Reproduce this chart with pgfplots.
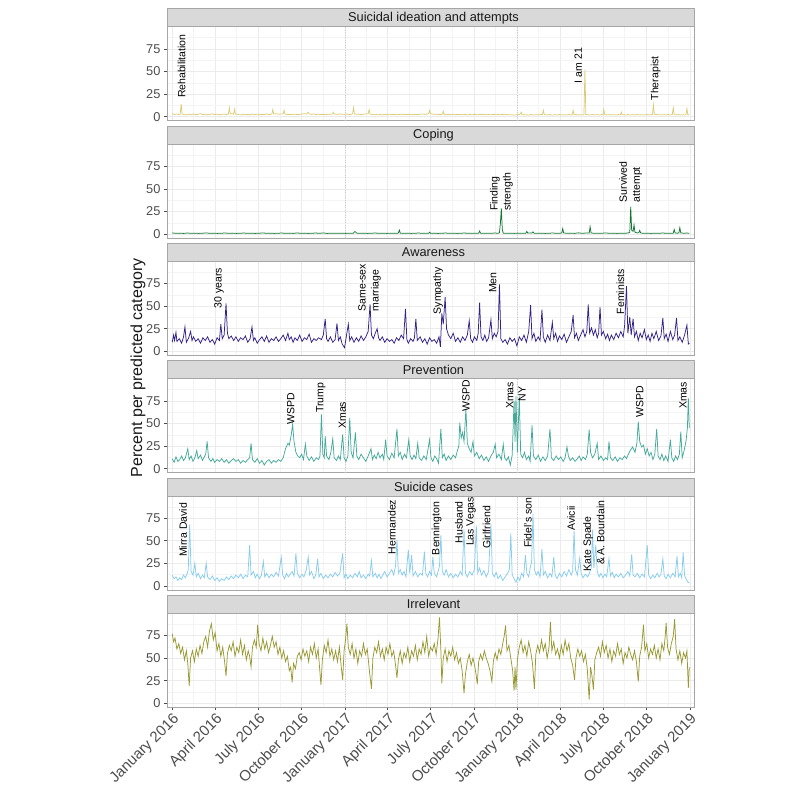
\documentclass[border=0pt]{standalone}
\usepackage{fontspec}
\setmainfont{Liberation Sans}
\usepackage{pgfplots}
\pgfplotsset{compat=1.18}

\definecolor{cSui}{HTML}{DDCC77}
\definecolor{cCop}{HTML}{117733}
\definecolor{cAwa}{HTML}{332288}
\definecolor{cPre}{HTML}{44AA99}
\definecolor{cCas}{HTML}{88CCEE}
\definecolor{cIrr}{HTML}{999933}
\definecolor{stripfill}{HTML}{D9D9D9}
\definecolor{frame}{HTML}{A6A6A6}
\definecolor{gmaj}{HTML}{EBEBEB}
\definecolor{gmin}{HTML}{F4F4F4}
\definecolor{ticktxt}{HTML}{4D4D4D}

% x is days since 1 January 2016
\pgfplotsset{
 panel/.style={
  width=527pt, height=94pt, scale only axis, anchor=south west,
  xmin=-11, xmax=1105, ymin=-4.5, ymax=99.5,
  xtick={0,91,182,274,366,456,547,639,731,821,912,1004,1096},
  minor xtick={45.5,136.5,228,320,411,501.5,593,685,776,866.5,958,1050},
  ytick={0,25,50,75}, minor ytick={12.5,37.5,62.5,87.5},
  xmajorgrids, ymajorgrids, xminorgrids, yminorgrids,
  major grid style={gmaj, line width=0.5pt},
  minor grid style={gmin, line width=0.4pt},
  axis line style={frame, line width=0.6pt},
  ytick pos=left, xtick pos=bottom, tick align=outside,
  major tick length=3pt, minor tick length=0pt,
  tick style={ticktxt, line width=0.5pt},
  yticklabel style={font=\fontsize{12.8}{14}\selectfont, text=ticktxt},
  /pgf/number format/assume math mode=true,
  xticklabels={}, xmajorticks=false,
  extra x ticks={366,731}, extra x tick labels={},
  extra x tick style={xmajorgrids=true, major tick length=0pt,
    major grid style={gray!40, line width=0.4pt, dash pattern=on 1pt off 1.5pt}},
  clip mode=individual,
  every axis plot/.append style={line width=0.75pt, mark=none},
 },
}
\tikzset{lab/.style={rotate=90, anchor=west, font=\fontsize{10.5}{13}\selectfont, inner sep=0pt, align=left}}
\newcommand{\strip}[2]{%
 \draw[frame, fill=stripfill, line width=0.6pt] (#1.north west) rectangle ([yshift=18pt]#1.north east);
 \node[font=\fontsize{12.8}{14}\selectfont, text=black!90] at ([xshift=3pt,yshift=9pt]#1.north) {#2};}

\begin{document}
\begin{tikzpicture}
\path (0pt,0pt) rectangle (800pt,793pt);

% ---------- Suicidal ideation and attempts
\begin{axis}[panel, name=p1, at={(167pt,672.2pt)}]
\addplot[cSui] coordinates {(0,3.5) (5,2.5) (10,3) (15,2.2) (17,3) (19,14) (21,3) (25,2.4) (30,2) (35,2.8) (40,2.2) (45,3) (50,2.3) (55,2.8) (60,3.4) (65,2.4) (70,2.8) (75,2) (80,2.6) (85,3.2) (90,2.4) (95,2.8) (100,2.2) (105,2.6) (110,3) (115,2.4) (119,3) (121,10) (123,3) (127,3.4) (130,2.6) (132,8) (134,3) (140,2.4) (145,2) (150,2.8) (155,2.2) (160,2.6) (165,2) (170,3) (175,2.4) (180,2.8) (185,2.2) (190,2.6) (195,2.4) (200,3) (205,2.2) (211,3) (213,8) (215,3) (220,3.4) (225,2.8) (230,3) (235,3.2) (237,7) (239,3) (245,2.4) (250,2.6) (255,2.2) (260,2.8) (265,2.4) (270,2.6) (275,3) (280,3.4) (285,3) (288,5) (290,3.2) (295,2.6) (300,3) (305,2.4) (310,2.8) (315,2.4) (320,2.6) (325,2.2) (330,2.8) (335,2.6) (339,3) (341,5) (343,3) (350,2.6) (355,3) (360,2.8) (365,2.6) (370,3) (375,2.4) (380,2.8) (382,3.4) (384,10) (386,3.2) (390,2.6) (395,3) (400,2.4) (405,2.8) (410,3) (415,3.4) (417,8) (419,3) (425,2.4) (430,2.2) (435,2.8) (440,2.4) (445,2) (450,2.6) (455,2.2) (460,2.8) (465,2.4) (470,2.6) (475,2.2) (480,2.4) (485,2.8) (490,2.2) (495,2.6) (500,2.4) (505,2.8) (510,2.2) (515,2.6) (520,2.4) (525,2.8) (530,3) (535,2.6) (540,3) (543,3.4) (545,7) (547,3.4) (550,3) (555,2.6) (560,2.8) (565,2.4) (570,2.6) (572,2.8) (574,6) (576,2.6) (580,2.2) (585,2.6) (590,2.2) (595,2.8) (600,2.2) (605,2.6) (610,2.4) (615,2.2) (620,2.6) (625,2) (630,2.4) (635,2.2) (640,2.6) (645,2.2) (650,2.4) (655,2.6) (660,2.2) (665,2.8) (670,2.4) (675,2.2) (680,2.6) (685,2.2) (690,2.4) (695,2.2) (700,2.6) (705,2.2) (710,2.4) (715,2) (720,2.2) (725,1.8) (730,2.2) (735,2.4) (737,2.8) (739,5) (741,2.4) (745,2) (750,2.2) (755,1.8) (760,2.4) (765,2) (770,2.2) (775,2) (780,2.4) (784,2.4) (786,7) (788,2.2) (795,2) (800,2.4) (805,1.8) (810,2.2) (815,2) (820,2.4) (825,2) (830,2.2) (835,2) (840,2.4) (845,2) (847,2.4) (849,7) (851,2.2) (855,2.4) (860,2) (865,2.2) (870,2) (872,2.4) (874,52) (876,2.4) (880,2.2) (885,2) (890,2.4) (895,2) (900,2.2) (905,2) (910,2.4) (912,2.2) (914,8) (916,2.2) (920,2) (925,2.4) (930,2) (935,2.2) (940,2) (945,2.4) (949,2) (951,5) (953,2.2) (960,2) (965,2.4) (970,2) (975,2.2) (980,2) (985,2.4) (990,2) (995,2.2) (1000,2) (1005,2.4) (1010,2) (1015,2.4) (1017,2.6) (1019,13) (1021,2.8) (1025,2.4) (1030,2.2) (1035,2) (1040,2.2) (1045,2) (1050,2.4) (1055,2) (1059,2.2) (1061,10) (1063,2.4) (1068,2) (1072,2.4) (1076,2) (1080,2.2) (1085,2) (1088,2.2) (1090,9) (1092,2) (1095,2.2)};
\node[lab] at (axis cs:20,20.5) {Rehabilitation};
\node[lab] at (axis cs:860,37) {I am 21};
\node[lab] at (axis cs:1024,18) {Therapist};
\end{axis}
\strip{p1}{Suicidal ideation and attempts}

% ---------- Coping
\begin{axis}[panel, name=p2, at={(167pt,554.9pt)}]
\addplot[cCop] coordinates {(0,1.2) (8,0.8) (16,1) (24,0.7) (32,1.1) (40,0.8) (48,1) (56,0.7) (64,0.9) (72,1.2) (80,0.8) (88,1) (96,0.7) (104,0.9) (112,1.1) (120,0.8) (128,1) (136,0.7) (144,0.9) (152,1.1) (160,0.8) (168,1) (176,0.7) (184,0.9) (192,1.2) (200,0.8) (208,1) (216,0.7) (224,0.9) (232,1.1) (240,0.8) (248,1) (256,0.7) (264,1.2) (272,0.8) (280,1) (288,0.7) (296,0.9) (304,1.1) (312,0.8) (320,1.2) (328,0.7) (336,0.9) (344,1) (352,0.8) (360,1) (368,0.7) (376,0.9) (384,1) (386,2.6) (388,2.4) (391,1) (398,0.8) (406,1) (414,0.7) (422,0.9) (430,1.1) (438,0.8) (446,1) (454,0.7) (462,0.9) (470,1) (477,0.8) (479,1.2) (481,4.4) (483,1) (490,0.8) (498,1) (506,0.7) (514,0.9) (522,1.1) (530,0.8) (538,1) (543,0.9) (545,2) (547,0.8) (555,1) (563,0.7) (571,0.9) (579,1.1) (587,0.8) (595,1) (603,0.7) (611,0.9) (619,1.1) (627,0.8) (635,1) (643,0.9) (649,1) (651,3.3) (653,1) (660,0.8) (668,1) (676,0.9) (684,1.1) (690,0.8) (693,1.5) (695,12) (697,28.4) (699,5) (701,1) (708,0.8) (716,1) (724,0.7) (732,1) (740,0.8) (749,1) (751,3) (753,1) (762,1.1) (764,2.4) (766,1) (774,0.8) (782,1) (790,0.7) (798,0.9) (806,1.1) (814,0.8) (822,1) (825,1.2) (827,6) (829,1.2) (836,0.8) (844,1) (852,0.7) (860,1.3) (868,0.8) (876,1.1) (883,1) (885,8) (887,1.2) (894,0.8) (902,1) (910,0.9) (918,1.2) (926,0.8) (934,1) (942,0.7) (950,1) (958,0.8) (966,1.2) (969,2) (971,30.3) (973,4) (976,3) (978,10) (980,2) (985,1.2) (988,1.4) (990,4) (992,1.2) (998,0.8) (1006,1) (1014,0.7) (1022,1) (1030,0.8) (1038,1.1) (1046,0.9) (1054,1) (1061,1) (1063,5) (1065,1.2) (1070,0.9) (1073,1.4) (1075,7) (1077,1.2) (1084,0.9) (1090,1.1) (1095,0.8)};
\node[lab] at (axis cs:697,25.5) {Finding\\strength};
\node[lab] at (axis cs:971,35) {Survived\\attempt};
\end{axis}
\strip{p2}{Coping}

% ---------- Awareness
\begin{axis}[panel, name=p3, at={(167pt,437.6pt)}]
\addplot[cAwa] coordinates {(0,10) (3,18) (5,12) (8,21) (10,11) (15,14) (20,9) (24,16) (27,27) (30,10) (35,15) (39,22) (42,12) (45,16) (50,11) (55,14) (60,9) (65,15) (70,12) (75,16) (80,10) (85,13) (90,8) (95,15) (100,12) (103,30) (106,14) (110,18) (114,53) (117,20) (120,14) (125,17) (130,12) (135,16) (140,11) (145,15) (150,13) (155,17) (160,10) (165,14) (169,27) (172,12) (175,15) (180,9) (185,13) (190,16) (195,11) (200,17) (205,10) (210,14) (215,12) (220,16) (225,11) (230,14) (235,18) (240,12) (245,20) (248,13) (252,16) (256,10) (260,15) (265,12) (270,18) (275,11) (280,15) (285,13) (290,19) (295,10) (300,14) (305,12) (310,15) (316,13) (320,18) (324,36) (327,14) (330,11) (335,16) (340,10) (345,13) (349,31) (352,12) (356,16) (360,8) (365,4) (368,14) (373,30) (376,12) (380,16) (385,10) (390,15) (395,11) (400,17) (405,12) (410,16) (415,22) (419,52) (422,18) (426,14) (430,20) (434,25) (437,15) (440,12) (445,16) (450,10) (455,14) (460,11) (465,13) (470,9) (475,15) (480,12) (485,18) (490,14) (494,47) (497,13) (500,9) (505,14) (510,11) (513,15) (516,36) (519,12) (525,16) (530,10) (535,14) (540,8) (545,15) (550,11) (555,13) (560,9) (565,16) (568,5) (571,42) (574,30) (578,60) (581,25) (585,18) (590,14) (595,20) (600,11) (605,15) (610,10) (615,16) (620,12) (625,18) (629,34) (632,14) (636,10) (640,16) (645,12) (648,20) (651,54) (654,16) (658,12) (662,18) (666,11) (670,15) (675,35) (678,14) (682,20) (686,16) (690,22) (693,74) (696,14) (700,10) (705,13) (710,8) (715,15) (720,11) (725,14) (730,6) (735,16) (740,12) (745,18) (750,10) (755,22) (759,51) (762,14) (766,20) (770,11) (775,16) (779,12) (783,46) (786,16) (790,10) (795,18) (800,12) (805,32) (808,14) (812,20) (816,11) (820,17) (825,13) (830,19) (835,10) (840,16) (845,22) (849,40) (852,15) (856,20) (860,12) (865,18) (870,24) (874,16) (878,22) (881,52) (884,20) (888,26) (892,18) (896,24) (900,15) (903,20) (906,49) (909,18) (913,22) (918,14) (922,19) (926,12) (930,18) (935,13) (940,20) (945,15) (950,22) (955,16) (958,28) (962,72) (965,20) (969,38) (972,18) (976,36) (979,16) (983,22) (987,12) (991,20) (995,15) (1000,24) (1004,13) (1008,18) (1012,11) (1016,20) (1020,14) (1025,22) (1030,12) (1035,17) (1039,37) (1042,14) (1046,19) (1050,11) (1055,22) (1060,13) (1064,18) (1068,37) (1071,12) (1075,16) (1080,10) (1085,18) (1090,29) (1093,8) (1095,9)};
\node[lab] at (axis cs:99,47.6) {30 years};
\node[lab] at (axis cs:418,44) {Same-sex\\marriage};
\node[lab] at (axis cs:563,41) {Sympathy};
\node[lab] at (axis cs:679,64.5) {Men};
\node[lab] at (axis cs:949,41) {Feminists};
\end{axis}
\strip{p3}{Awareness}

% ---------- Prevention
\begin{axis}[panel, name=p4, at={(167pt,320.3pt)}]
\addplot[cPre] coordinates {(0,11) (4,7) (8,13) (12,8) (16,10) (20,14) (24,9) (28,12) (33,22) (36,10) (40,14) (44,8) (48,12) (52,20) (55,11) (60,15) (64,9) (68,13) (71,16) (74,30) (77,12) (82,8) (86,11) (90,7) (95,10) (100,8) (105,11) (110,7) (115,10) (120,6) (125,9) (130,11) (135,8) (140,10) (145,6) (150,9) (155,7) (160,10) (164,12) (167,28) (170,10) (175,7) (180,11) (185,6) (190,9) (195,4) (200,8) (205,10) (210,6) (215,9) (220,7) (225,10) (230,8) (235,12) (240,22) (245,28) (248,26) (252,37) (255,49) (258,30) (262,18) (266,14) (270,12) (274,16) (278,10) (282,27) (285,14) (290,9) (295,13) (300,8) (305,12) (310,10) (313,14) (316,60) (319,16) (322,12) (324,36) (327,14) (332,10) (336,18) (340,33) (343,12) (348,9) (352,14) (356,10) (361,38) (364,12) (368,8) (372,14) (376,56) (379,18) (383,12) (388,40) (391,14) (395,10) (400,16) (405,12) (410,8) (415,14) (421,22) (424,10) (428,15) (432,11) (436,18) (440,12) (445,16) (448,10) (452,32) (455,14) (460,10) (465,17) (470,12) (476,44) (479,14) (483,18) (487,10) (492,16) (496,12) (501,32) (504,14) (508,10) (512,15) (516,11) (520,28) (523,12) (528,9) (533,14) (538,10) (545,32) (548,12) (552,8) (556,14) (560,11) (564,6) (569,44) (572,12) (576,16) (580,9) (585,14) (590,10) (595,15) (600,12) (604,20) (607,25) (609,51) (612,34) (615,40) (618,30) (622,66) (625,28) (629,22) (633,18) (637,30) (640,14) (645,18) (650,11) (655,15) (660,9) (665,13) (670,8) (675,14) (680,18) (684,27) (687,12) (692,16) (697,10) (701,27) (704,12) (708,9) (712,13) (716,4) (720,15) (724,75) (726,30) (728,80) (731,18) (735,80) (738,16) (742,12) (746,18) (750,10) (755,14) (758,8) (762,48) (765,14) (770,10) (775,15) (780,8) (785,13) (790,9) (795,14) (800,44) (803,12) (808,9) (813,14) (818,10) (823,13) (828,8) (832,12) (836,24) (839,14) (843,9) (848,12) (853,8) (858,11) (862,14) (866,9) (870,13) (875,10) (879,16) (883,43) (886,18) (890,12) (895,16) (900,28) (903,10) (908,14) (913,9) (918,12) (922,10) (925,30) (928,12) (933,9) (938,13) (943,8) (948,12) (953,10) (958,14) (962,11) (966,16) (970,20) (975,24) (980,18) (984,28) (987,52) (990,30) (994,24) (998,26) (1002,16) (1006,22) (1010,14) (1014,18) (1018,10) (1022,16) (1026,44) (1029,14) (1033,10) (1037,16) (1041,9) (1045,14) (1050,8) (1055,32) (1058,12) (1062,8) (1066,14) (1070,10) (1074,16) (1077,41) (1080,12) (1084,20) (1088,30) (1091,45) (1093,78) (1095,45)};
\node[lab] at (axis cs:251,48.5) {WSPD};
\node[lab] at (axis cs:315,61.5) {Trump};
\node[lab] at (axis cs:360,44) {Xmas};
\node[lab] at (axis cs:622,63) {WSPD};
\node[lab] at (axis cs:715,66) {Xmas};
\node[lab] at (axis cs:741,74.5) {NY};
\node[lab] at (axis cs:990,56) {WSPD};
\node[lab] at (axis cs:1082,66) {Xmas};
\end{axis}
\strip{p4}{Prevention}

% ---------- Suicide cases
\begin{axis}[panel, name=p5, at={(167pt,203pt)}]
\addplot[cCas] coordinates {(0,12) (4,8) (8,10) (12,6) (16,9) (20,7) (24,12) (28,9) (32,14) (34,18) (37,68) (40,16) (44,12) (48,25) (51,10) (55,14) (60,8) (64,12) (68,9) (72,25) (75,10) (80,7) (85,11) (90,6) (95,9) (100,5) (105,8) (110,6) (115,10) (120,7) (125,11) (130,8) (135,12) (140,9) (145,13) (150,8) (155,12) (160,10) (164,45) (167,12) (172,16) (176,9) (180,13) (185,8) (189,12) (193,27) (196,10) (200,14) (205,9) (210,13) (215,10) (220,15) (225,11) (231,32) (234,12) (238,8) (242,14) (246,10) (250,13) (254,16) (258,11) (262,36) (265,14) (270,9) (275,13) (279,10) (284,18) (288,32) (291,12) (295,16) (300,8) (304,12) (308,30) (311,10) (315,14) (320,8) (325,12) (330,9) (335,13) (340,10) (345,15) (350,11) (355,14) (361,36) (364,9) (368,13) (372,8) (377,12) (382,9) (387,14) (392,10) (396,16) (400,9) (405,12) (410,8) (415,13) (418,11) (422,28) (425,10) (430,14) (434,9) (438,13) (442,8) (446,12) (450,16) (455,10) (460,14) (465,18) (469,12) (473,22) (476,51) (479,14) (483,18) (487,12) (491,16) (495,10) (500,40) (503,14) (507,34) (510,11) (515,16) (520,10) (525,14) (530,12) (534,38) (537,14) (541,10) (545,16) (549,12) (552,32) (555,14) (560,10) (564,18) (566,22) (569,56) (572,16) (576,12) (580,18) (585,10) (590,14) (595,9) (600,13) (605,10) (610,16) (614,12) (618,62) (621,14) (625,10) (630,16) (635,12) (640,18) (644,67) (647,14) (651,20) (655,12) (660,17) (665,10) (670,16) (675,68) (678,14) (682,10) (686,15) (690,8) (695,12) (700,6) (705,10) (710,14) (714,18) (717,58) (720,12) (724,8) (728,4) (732,10) (736,6) (740,14) (744,10) (748,34) (751,14) (755,10) (758,20) (761,26) (764,80) (767,18) (771,12) (775,16) (779,10) (783,41) (786,12) (790,16) (795,9) (800,14) (804,10) (808,32) (811,12) (815,8) (820,14) (825,10) (830,16) (835,11) (840,18) (845,12) (848,16) (851,61) (854,18) (858,12) (863,31) (866,14) (870,9) (875,13) (880,10) (885,16) (888,22) (890,62) (893,20) (897,45) (900,16) (904,10) (908,14) (912,9) (916,13) (920,10) (925,30) (928,11) (932,15) (936,9) (940,13) (945,10) (950,14) (955,9) (960,12) (965,16) (969,11) (973,35) (976,12) (980,10) (985,14) (990,9) (995,13) (1000,10) (1006,45) (1009,12) (1013,8) (1018,12) (1022,9) (1027,14) (1031,10) (1035,13) (1039,30) (1042,11) (1046,8) (1050,13) (1055,9) (1060,14) (1065,10) (1069,33) (1072,10) (1076,14) (1079,9) (1082,37) (1085,12) (1088,8) (1091,5) (1095,3)};
\node[lab] at (axis cs:23,32) {Mirra David};
\node[lab] at (axis cs:465,35) {Hermandez};
\node[lab] at (axis cs:560,34) {Bennington};
\node[lab] at (axis cs:607,47) {Husband};
\node[lab] at (axis cs:633,44) {Las Vegas};
\node[lab] at (axis cs:666,41) {Girlfriend};
\node[lab] at (axis cs:753,42) {Fidel's son};
\node[lab] at (axis cs:845,61) {Avicii};
\node[lab] at (axis cs:881,16) {Kate Spade};
\node[lab] at (axis cs:907,23) {\& A. Bourdain};
\end{axis}
\strip{p5}{Suicide cases}

% ---------- Irrelevant
\begin{axis}[panel, name=p6, at={(167pt,85.7pt)},
  xmajorticks=true,
  xticklabels={January 2016,April 2016,July 2016,October 2016,January 2017,April 2017,July 2017,October 2017,January 2018,April 2018,July 2018,October 2018,January 2019},
  xticklabel style={rotate=45, anchor=north east, font=\fontsize{15}{16}\selectfont, text=ticktxt, inner sep=1pt}]
\addplot[cIrr] coordinates {(0,77) (3,68) (6,72) (10,60) (14,66) (18,55) (22,62) (26,48) (30,58) (33,44) (36,19) (39,50) (43,58) (47,46) (51,60) (55,52) (59,64) (63,55) (67,68) (71,74) (75,62) (79,80) (83,88) (87,70) (91,78) (95,58) (99,66) (103,52) (107,62) (111,46) (114,30) (117,55) (121,64) (125,58) (129,68) (133,52) (137,62) (141,56) (145,70) (149,54) (153,64) (157,48) (161,58) (164,52) (167,40) (170,62) (174,70) (178,62) (181,87) (184,66) (188,58) (192,72) (196,60) (200,68) (204,56) (208,64) (212,74) (216,62) (220,68) (224,54) (228,62) (232,50) (236,58) (240,46) (244,52) (248,36) (251,40) (254,23) (257,44) (261,38) (265,52) (269,56) (273,48) (277,60) (281,52) (285,58) (289,46) (293,62) (297,54) (301,66) (305,50) (309,60) (312,40) (315,20) (318,48) (322,64) (326,56) (330,70) (334,52) (338,60) (342,48) (346,58) (350,46) (354,62) (358,40) (361,26) (364,58) (367,70) (370,88) (373,62) (377,54) (381,66) (385,50) (389,60) (393,44) (397,58) (401,52) (405,66) (409,54) (413,60) (418,34) (422,16) (425,50) (429,62) (433,56) (437,68) (441,52) (445,60) (449,48) (453,62) (457,54) (461,66) (465,52) (469,58) (473,42) (476,28) (479,48) (483,58) (487,44) (491,56) (495,50) (499,62) (503,46) (507,58) (511,52) (515,64) (519,48) (523,60) (527,54) (531,68) (535,56) (539,74) (543,52) (547,62) (551,58) (555,66) (559,54) (563,72) (566,95) (569,58) (571,22) (574,50) (578,60) (582,46) (586,58) (590,52) (594,62) (598,48) (602,56) (606,44) (610,50) (614,36) (618,11) (621,32) (625,46) (629,54) (633,42) (637,50) (641,40) (644,30) (646,21) (649,46) (653,54) (657,48) (661,58) (665,50) (669,44) (673,36) (677,24) (680,46) (684,56) (688,48) (692,60) (696,54) (700,66) (703,74) (706,86) (709,58) (713,64) (717,50) (721,36) (724,14) (726,40) (728,15) (731,48) (735,62) (739,70) (743,56) (747,64) (751,52) (755,68) (759,58) (763,44) (767,16) (770,54) (774,64) (778,56) (782,70) (786,58) (790,66) (794,50) (798,62) (801,90) (804,58) (808,68) (812,54) (816,60) (820,50) (824,64) (828,54) (832,70) (836,58) (840,66) (844,50) (848,42) (852,26) (855,50) (859,60) (863,52) (867,58) (871,46) (875,54) (879,38) (883,4) (886,40) (889,30) (892,15) (895,48) (899,56) (903,62) (907,52) (911,68) (915,56) (919,64) (923,50) (927,60) (931,46) (935,58) (939,52) (943,66) (947,54) (951,60) (955,44) (959,56) (963,50) (967,62) (971,54) (975,48) (979,58) (983,46) (987,24) (990,52) (994,62) (998,87) (1001,58) (1005,66) (1009,50) (1013,60) (1017,54) (1021,64) (1025,50) (1029,60) (1033,48) (1037,66) (1041,58) (1044,74) (1046,89) (1049,62) (1053,54) (1057,66) (1061,74) (1064,93) (1067,60) (1071,48) (1075,58) (1079,44) (1083,56) (1087,50) (1090,58) (1093,17) (1095,40)};
\end{axis}
\strip{p6}{Irrelevant}

\node[rotate=90, font=\fontsize{16}{18}\selectfont, text=black!90] at (138pt,425pt) {Percent per predicted category};
\end{tikzpicture}
\end{document}
